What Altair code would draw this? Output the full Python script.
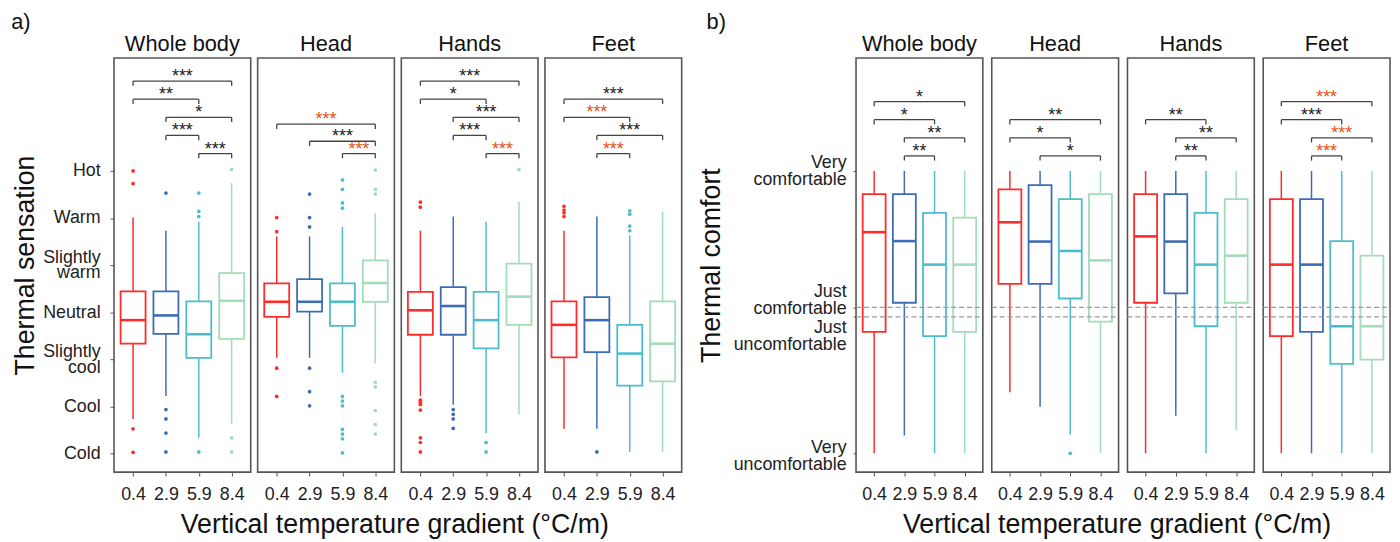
import json
import altair as alt
import pandas as pd

GRADIENTS = ["0.4", "2.9", "5.9", "8.4"]
PARTS = ["Whole body", "Head", "Hands", "Feet"]

SENS_TICKS = [3, 2, 1, 0, -1, -2, -3]
SENS_LABELS = ["Hot", "Warm", "Slightly\nwarm", "Neutral", "Slightly\ncool", "Cool", "Cold"]
COMF_TICKS = [3, 0.1, -0.1, -3]
COMF_LABELS = ["Very\ncomfortable", "Just\ncomfortable", "Just\nuncomfortable", "Very\nuncomfortable"]
X_TITLE = "Vertical temperature gradient (°C/m)"

# ---- a) Thermal sensation: rows = body part, columns = gradient ----
SENS_Q1 = [[-0.67, -0.46, -0.97, -0.57], [-0.10, 0.01, -0.29, 0.22],
           [-0.48, -0.48, -0.77, -0.27], [-0.96, -0.85, -1.56, -1.47]]
SENS_MED = [[-0.17, -0.07, -0.47, 0.24], [0.22, 0.22, 0.22, 0.62],
            [0.04, 0.13, -0.17, 0.33], [-0.27, -0.17, -0.88, -0.67]]
SENS_Q3 = [[0.44, 0.44, 0.23, 0.83], [0.61, 0.70, 0.61, 1.10],
           [0.43, 0.53, 0.43, 1.03], [0.23, 0.32, -0.27, 0.23]]
SENS_LO = [[-2.27, -1.78, -2.67, -2.37], [-0.97, -0.97, -1.29, -1.09],
           [-1.78, -1.97, -2.57, -2.17], [-2.48, -2.48, -2.97, -2.97]]
SENS_HI = [[2.01, 1.73, 1.92, 2.74], [1.61, 1.61, 1.81, 2.11],
           [1.73, 2.03, 1.92, 2.34], [1.73, 2.03, 1.63, 2.13]]
SENS_OUT = [
    [[3.0, 2.73, -2.48, -2.98], [2.53, -2.07, -2.27, -2.57, -2.97], [2.53, 2.14, 2.03, -2.97], [3.03, -2.67, -2.97]],
    [[2.01, 1.71, -1.19, -1.79], [2.51, 2.01, 1.81, -1.19, -1.69, -1.99],
     [2.81, 2.61, 2.32, 2.21, -1.79, -1.89, -1.99, -2.49, -2.59, -2.69, -2.99],
     [3.02, 2.61, 2.51, -1.49, -1.59, -2.09, -2.39, -2.59]],
    [[2.34, 2.23, -1.87, -1.92, -1.96, -2.08, -2.67, -2.77, -2.97], [-2.07, -2.17, -2.27, -2.47], [-2.77, -2.97], [3.03]],
    [[2.25, 2.17, 2.11, 2.03], [-2.97], [2.15, 2.08, 1.83, 1.73], []],
]
# (from, to, label, stack row, highlighted)
SENS_BRACKETS = [
    [(1, 4, "***", 4, 0), (1, 3, "**", 3, 0), (2, 4, "*", 2, 0), (2, 3, "***", 1, 0), (3, 4, "***", 0, 0)],
    [(1, 4, "***", 1.62, 1), (2, 4, "***", 0.68, 0), (3, 4, "***", 0, 1)],
    [(1, 4, "***", 4, 0), (1, 3, "*", 3, 0), (2, 4, "***", 2, 0), (2, 3, "***", 1, 0), (3, 4, "***", 0, 1)],
    [(1, 4, "***", 3, 0), (1, 3, "***", 2, 1), (2, 4, "***", 1, 0), (2, 3, "***", 0, 1)],
]

# ---- b) Thermal comfort ----
COMF_Q1 = [[-0.42, 0.20, -0.51, -0.42], [0.60, 0.60, 0.29, -0.20],
           [0.20, 0.40, -0.30, 0.20], [-0.51, -0.42, -1.10, -1.01]]
COMF_MED = [[1.70, 1.51, 1.01, 1.01], [1.91, 1.50, 1.30, 1.10],
            [1.61, 1.50, 1.01, 1.20], [1.01, 1.01, -0.30, -0.30]]
COMF_Q3 = [[2.51, 2.51, 2.11, 2.01], [2.61, 2.70, 2.40, 2.51],
           [2.51, 2.51, 2.11, 2.40], [2.40, 2.40, 1.51, 1.20]]
COMF_LO = [[-3.0, -2.62, -3.0, -3.0], [-1.70, -2.01, -2.60, -3.0],
           [-3.0, -2.20, -3.0, -2.51], [-3.0, -3.0, -3.0, -3.0]]
COMF_HI = [[3.0, 3.0, 3.0, 3.0], [3.0, 3.0, 3.0, 3.0],
           [3.0, 3.0, 3.0, 3.0], [3.0, 3.0, 3.0, 3.0]]
COMF_OUT = [
    [[], [], [], []],
    [[], [], [-3.0], []],
    [[], [], [], []],
    [[], [], [], []],
]
COMF_BRACKETS = [
    [(1, 4, "*", 3, 0), (1, 3, "*", 2, 0), (2, 4, "**", 1, 0), (2, 3, "**", 0, 0)],
    [(1, 4, "**", 2, 0), (1, 3, "*", 1, 0), (2, 4, "*", 0, 0)],
    [(1, 3, "**", 2, 0), (2, 4, "**", 1, 0), (2, 3, "**", 0, 0)],
    [(1, 4, "***", 3, 1), (1, 3, "***", 2, 0), (2, 4, "***", 1, 1), (2, 3, "***", 0, 1)],
]

# ---- style ----
FONT = "Liberation Sans"
COLORS = ["#FF2B2B", "#3D6CB6", "#4DBDCC", "#A2DCB8"]
ORANGE = "#E4531B"
BLACK = "#222222"
Y_DOMAIN = [-3.4, 5.4]
HALF = 0.38
STEP = 0.385
TICK = 0.1
PANEL_H = 418
SPACING = 5


def label_expr(labels, ticks):
    return f"split({json.dumps(labels)}[indexof({json.dumps(ticks)}, datum.value)], '\\n')"


XAXIS = alt.Axis(values=[1, 2, 3, 4], labelExpr=f"{json.dumps(GRADIENTS)}[datum.value - 1]", title=None,
                 grid=False, domain=False, tickSize=4, tickColor="#555",
                 labelFontSize=18, labelPadding=10, labelColor=BLACK, labelFont=FONT, labelFlush=False)


def make_panel(k, stats, outs, brackets, width, xdom, yaxis, base, dashed):
    q1, med, q3, lo, hi = stats
    box = pd.DataFrame({"pos": [1, 2, 3, 4], "grad": GRADIENTS, "q1": q1[k], "med": med[k],
                        "q3": q3[k], "lo": lo[k], "hi": hi[k]})
    out_rows = [{"pos": i + 1, "grad": GRADIENTS[i], "v": v} for i in range(4) for v in outs[k][i]]
    br = pd.DataFrame(brackets[k], columns=["i", "j", "stars", "row", "hl"])

    xs = alt.Scale(domain=xdom, nice=False, zero=False)
    ys = alt.Scale(domain=Y_DOMAIN, nice=False, zero=False)
    col = alt.Color("grad:N", scale=alt.Scale(domain=GRADIENTS, range=COLORS), legend=None)

    def X(f):
        return alt.X(f, scale=xs, axis=XAXIS)

    def Y(f):
        return alt.Y(f, scale=ys, axis=yaxis)

    base_box = alt.Chart(box).transform_calculate(left=f"datum.pos - {HALF}", right=f"datum.pos + {HALF}")
    whisk = alt.Chart(box).mark_rule(strokeWidth=1.5).encode(
        x=X("pos:Q"), y=Y("lo:Q"), y2="hi:Q", color=col)
    rect = base_box.mark_rect(fill="white", strokeWidth=1.8).encode(
        x=X("left:Q"), x2="right:Q", y=Y("q1:Q"), y2="q3:Q",
        stroke=alt.Stroke("grad:N", scale=alt.Scale(domain=GRADIENTS, range=COLORS), legend=None))
    medl = base_box.mark_rule(strokeWidth=2.6).encode(
        x=X("left:Q"), x2="right:Q", y=Y("med:Q"), color=col)
    layers = [whisk, rect, medl]
    if out_rows:
        layers.append(alt.Chart(pd.DataFrame(out_rows)).mark_circle(size=14, opacity=1).encode(
            x=X("pos:Q"), y=Y("v:Q"), color=col))
    if dashed:
        dd = pd.DataFrame({"v": COMF_TICKS[1:3]})
        layers.append(alt.Chart(dd).mark_rule(strokeDash=[5, 3], color="#9a9a9a", strokeWidth=1.3).encode(
            y=Y("v:Q"), x=alt.value(0), x2=alt.value(width)))

    brb = alt.Chart(br).transform_calculate(yl=f"{base} + datum.row * {STEP}", mid="(datum.i + datum.j) / 2")
    layers.append(brb.mark_rule(color="#444", strokeWidth=1.3).encode(
        x=X("i:Q"), x2="j:Q", y=Y("yl:Q")))
    layers.append(brb.transform_fold(["i", "j"], as_=["end", "xe"]).transform_calculate(
        y2=f"datum.yl - {TICK}").mark_rule(color="#444", strokeWidth=1.3).encode(
        x=X("xe:Q"), y=Y("yl:Q"), y2="y2:Q"))
    layers.append(brb.mark_text(fontSize=18, dy=-4, font=FONT).encode(
        x=X("mid:Q"), y=Y("yl:Q"), text="stars:N",
        color=alt.condition("datum.hl == 1", alt.value(ORANGE), alt.value(BLACK))))

    return alt.layer(*layers).properties(
        width=width, height=PANEL_H,
        title=alt.TitleParams(PARTS[k], fontSize=22, fontWeight="normal", font=FONT, color="#111", offset=2))


sens_axis = alt.Axis(values=SENS_TICKS, labelExpr=label_expr(SENS_LABELS, SENS_TICKS),
                     title="Thermal sensation", titleFontSize=27, titleFontWeight="normal", titleFont=FONT,
                     titleColor="#111", titlePadding=3, labelFontSize=18, labelFont=FONT, labelColor=BLACK,
                     labelLineHeight=16, labelBaseline="middle", tickSize=4, tickColor="#555",
                     labelPadding=10, domain=False, grid=False,
                     labelOffset={"condition": {"test": "abs(datum.value) == 1", "value": -8}, "value": 0})
comf_axis = alt.Axis(values=COMF_TICKS, labelExpr=label_expr(COMF_LABELS, COMF_TICKS),
                     title="Thermal comfort", titleFontSize=27, titleFontWeight="normal", titleFont=FONT,
                     titleColor="#111", titlePadding=8, labelFontSize=18, labelFont=FONT, labelColor=BLACK,
                     labelLineHeight=17.5, labelBaseline="middle", tickSize=3, tickColor="#555",
                     labelPadding=7, domain=False, grid=False,
                     labelOffset={"condition": [
                         {"test": "datum.value > 1", "value": -9},
                         {"test": "datum.value > 0", "value": -16.5},
                         {"test": "datum.value > -1", "value": 10.5}], "value": -6})

sens_stats = (SENS_Q1, SENS_MED, SENS_Q3, SENS_LO, SENS_HI)
comf_stats = (COMF_Q1, COMF_MED, COMF_Q3, COMF_LO, COMF_HI)

W_A, W_B = 138, 128
panels_a = [make_panel(k, sens_stats, SENS_OUT, SENS_BRACKETS, W_A, [0.42, 4.58],
                       sens_axis if k == 0 else None, 3.37, False) for k in range(4)]
panels_b = [make_panel(k, comf_stats, COMF_OUT, COMF_BRACKETS, W_B, [0.4, 4.6],
                       comf_axis if k == 0 else None, 3.32, True) for k in range(4)]


def group(panels, letter, dx, width):
    span = 4 * width + 3 * SPACING
    inner = alt.hconcat(*panels, spacing=SPACING).properties(
        title=alt.TitleParams(X_TITLE, orient="bottom", anchor="middle", frame="group", dx=span / 2,
                              fontSize=27, fontWeight="normal", font=FONT, color="#111", offset=8))
    return alt.vconcat(inner, spacing=0).properties(
        title=alt.TitleParams(letter, anchor="start", fontSize=22, fontWeight="normal", font=FONT,
                              color="#111", offset=-1, dx=dx))


chart = alt.hconcat(group(panels_a, "a)", 0, W_A), group(panels_b, "b)", 10, W_B), spacing=14).properties(
    padding={"left": 3, "right": 0, "top": 0, "bottom": 0}
).configure_view(stroke="#555", strokeWidth=1.6)

chart.save("out.html", embed_options={"renderer": "svg", "actions": False})
